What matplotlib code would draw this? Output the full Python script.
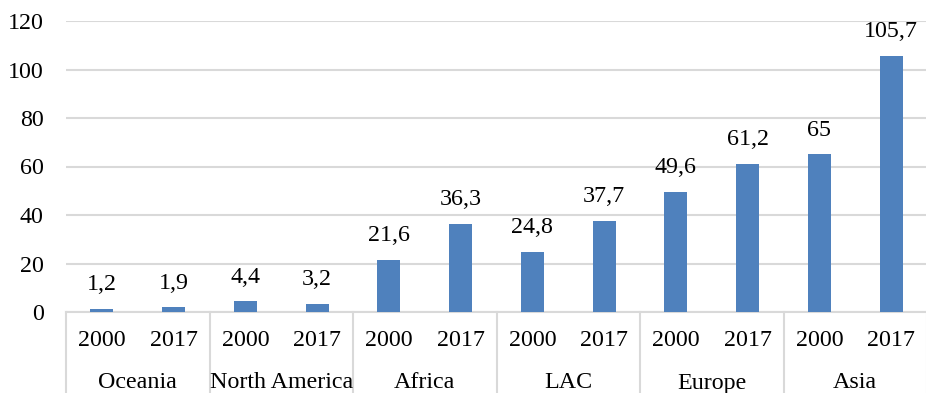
import matplotlib
matplotlib.use("Agg")
import matplotlib.pyplot as plt
import matplotlib.transforms as mtransforms
import numpy as np

# data
regions = ["Oceania", "North America", "Africa", "LAC", "Europe", "Asia"]
years = ["2000", "2017"]
values = [1.2, 1.9, 4.4, 3.2, 21.6, 36.3, 24.8, 37.7, 49.6, 61.2, 65, 105.7]

plt.rcParams['font.family'] = ['Liberation Serif', 'DejaVu Serif']
fs = 17.3

bar_color = '#4f81bd'
grid_color = '#d9d9d9'

fig = plt.figure(figsize=(9.26, 3.93), dpi=100)
ax = fig.add_axes([66 / 926, 1 - 312 / 393, 861 / 926, (312 - 21) / 393])

x = np.arange(len(values))
ax.bar(x, values, width=0.32, color=bar_color, zorder=3)

ax.set_xlim(-0.5, len(values) - 0.5)
ax.set_ylim(0, 120)
ax.set_yticks(np.arange(0, 121, 20))
ax.yaxis.grid(True, color=grid_color, linewidth=1.5, zorder=0)
ax.tick_params(axis='y', length=0, pad=16, labelsize=fs)
ax.tick_params(axis='x', length=0, labelbottom=False)
for s in ['top', 'right', 'left']:
    ax.spines[s].set_visible(False)
ax.spines['bottom'].set_color(grid_color)
ax.spines['bottom'].set_linewidth(1.5)

# value labels
for xi, v in zip(x, values):
    lbl = f"{v:g}".replace('.', ',')
    ax.annotate(lbl, (xi, v), xytext=(0, 17.5), textcoords='offset points',
                ha='center', va='center', fontsize=fs)

# two-level category axis
trans = mtransforms.blended_transform_factory(ax.transData, fig.transFigure)
y_year = 1 - 340 / 393
y_region = 1 - 383 / 393
for i, v in enumerate(values):
    ax.text(i, y_year, years[i % 2], transform=trans, ha='center', va='center', fontsize=fs)
for g, name in enumerate(regions):
    ax.text(2 * g + 0.5, y_region, name, transform=trans, ha='center', va='center', fontsize=fs)
for g in range(len(regions) + 1):
    ax.plot([2 * g - 0.5, 2 * g - 0.5], [1 - 312 / 393, 0], transform=trans,
            color=grid_color, linewidth=1.5, clip_on=False)

fig.savefig("out.png", dpi=100)
